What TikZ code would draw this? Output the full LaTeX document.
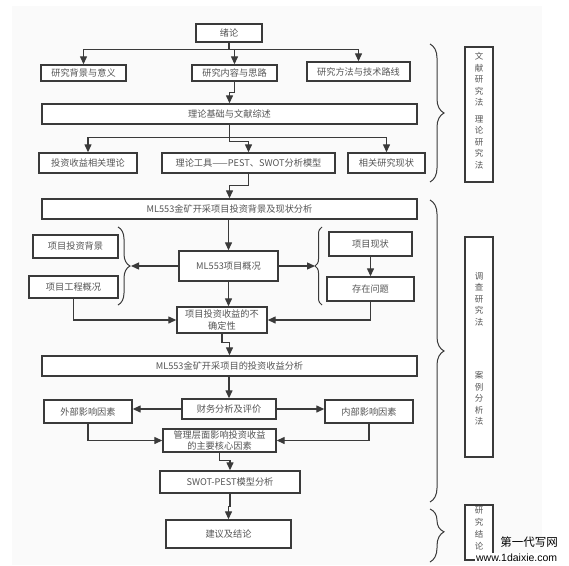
\documentclass[tikz,border=0pt]{standalone}
\usepackage{fontspec}
\newfontfamily\cjk{Noto Sans CJK SC}
\newfontfamily\wmfont{Liberation Sans}
\usetikzlibrary{arrows.meta,decorations.pathreplacing}
\definecolor{linec}{HTML}{3A3A3A}
\definecolor{textc}{HTML}{555555}
\definecolor{pagec}{HTML}{FAFAFA}
\tikzset{
  box/.style={draw=linec, line width=1.4pt, fill=white, inner sep=0pt, align=center,
    font=\cjk\fontsize{9.2}{11.5}\selectfont, text=textc},
  arr/.style={draw=linec, line width=1.3pt, -{Triangle[length=8pt,width=7pt]}},
  ln/.style={draw=linec, line width=1.3pt},
  brc/.style={draw=linec, line width=1pt, decorate, decoration={brace, amplitude=#1}},
  brc/.default=7pt,
  vtext/.style={font=\cjk\fontsize{8.5}{11.5}\selectfont, text=textc, align=center, inner sep=0pt}
}
\begin{document}
\begin{tikzpicture}[x=1pt,y=-1pt]
\useasboundingbox (0,0) rectangle (569,565);
\fill[white] (0,0) rectangle (569,565);
\fill[pagec] (12,6) rectangle (542,565);

% top part
\node[box, minimum width=66pt, minimum height=18pt] (xulun) at (229,33) {绪论};
\node[box, minimum width=85pt, minimum height=16pt] (bg) at (83.5,73) {研究背景与意义};
\node[box, minimum width=85pt, minimum height=16pt] (nr) at (234.5,73) {研究内容与思路};
\node[box, minimum width=103pt, minimum height=19pt] (ff) at (358.5,71.5) {研究方法与技术路线};
\node[box, minimum width=375pt, minimum height=20pt] (ll) at (229.5,114) {理论基础与文献综述};
\node[box, minimum width=98pt, minimum height=20pt] (tz) at (88,163) {投资收益相关理论};
\node[box, minimum width=173pt, minimum height=20pt] (gj) at (248.5,163) {理论工具——PEST、SWOT分析模型};
\node[box, minimum width=77pt, minimum height=20pt] (xg) at (386.5,163) {相关研究现状};

% middle part
\node[box, minimum width=375pt, minimum height=20pt] (a1) at (229.5,209) {ML553金矿开采项目投资背景及现状分析};
\node[box, minimum width=99pt, minimum height=30pt] (gk) at (228.5,266) {ML553项目概况};
\node[box, minimum width=85pt, minimum height=23pt] (tzbj) at (75.5,246.5) {项目投资背景};
\node[box, minimum width=89pt, minimum height=22pt] (gc) at (73.5,287) {项目工程概况};
\node[box, minimum width=83pt, minimum height=24pt] (xz) at (370.5,244) {项目现状};
\node[box, minimum width=87pt, minimum height=24pt] (wt) at (370.5,289) {存在问题};
\node[box, minimum width=90pt, minimum height=26pt] (bq) at (222,320) {项目投资收益的不\\确定性};

% lower part
\node[box, minimum width=375pt, minimum height=20pt] (a2) at (229.5,366) {ML553金矿开采项目的投资收益分析};
\node[box, minimum width=94pt, minimum height=20pt] (cw) at (229,409) {财务分析及评价};
\node[box, minimum width=88pt, minimum height=23pt] (wb) at (88,411.5) {外部影响因素};
\node[box, minimum width=88pt, minimum height=23pt] (nb) at (369,411.5) {内部影响因素};
\node[box, minimum width=113pt, minimum height=23pt, font=\cjk\fontsize{9.2}{10.5}\selectfont] (gl) at (219.5,440.5) {管理层面影响投资收益\\的主要核心因素};
\node[box, minimum width=140pt, minimum height=22pt] (sw) at (230,482) {SWOT-PEST模型分析};
\node[box, minimum width=125pt, minimum height=28pt] (jy) at (228.5,534) {建议及结论};

% right method boxes
\node[box, minimum width=28pt, minimum height=135pt] (m1) at (479,114.5) {};
\node[vtext] (m1t) at (479,110.5) {文\\献\\研\\究\\法\\[5pt]理\\论\\研\\究\\法};
\node[box, minimum width=28pt, minimum height=220pt] (m2) at (479,347) {};
\node[vtext] (m2t) at (479,349) {调\\查\\研\\究\\法\\[42pt]案\\例\\分\\析\\法};
\node[box, minimum width=28pt, minimum height=55pt] (m3) at (479,532.5) {};
\node[vtext, font=\cjk\fontsize{8.5}{12}\selectfont] (m3t) at (479,528.5) {研\\究\\结\\论};

% connectors top
\draw[ln] (xulun.south) -- ++(0,7) coordinate (j1);
\draw[arr] (j1) -| (bg.north);
\draw[arr] (j1) -| (ff.north);
\draw[arr] (j1) -| (nr.north);
\draw[arr] (nr.south) -- ++(0,11) -| (ll.north);
\draw[ln] (ll.south) -- ++(0,13) coordinate (j2);
\draw[arr] (j2) -| (tz.north);
\draw[arr] (j2) -| (xg.north);
\draw[arr] (ll.south) -- ++(0,17) -| (gj.north);
\draw[arr] (gj.south) -- ++(0,12) -| (a1.north);

% connectors middle
\draw[arr] (gk.north |- a1.south) -- (gk.north);
\coordinate (lbt) at (131,266);
\coordinate (rbt) at (315,266);
\draw[arr] (gk.west) -- (lbt);
\draw[arr] (gk.east) -- (rbt);
\draw[brc=12pt] (118,227) -- (118,305);
\draw[brc=7pt] (322,305) -- (322,227);
\draw[arr] (xz.south) -- (wt.north);
\draw[arr] (gk.south) -- (gk.south |- bq.north);
\draw[arr] (gc.south) |- (bq.west);
\draw[arr] (wt.south) |- (bq.east);
\draw[arr] (bq.south) -- ++(0,9) -| (a2.north);

% connectors lower
\draw[arr] (cw.north |- a2.south) -- (cw.north);
\draw[arr] (cw.west) -- (cw.west -| wb.east);
\draw[arr] (cw.east) -- (cw.east -| nb.west);
\draw[arr] (wb.south) |- (gl.west);
\draw[arr] (nb.south) |- (gl.east);
\draw[arr] (gl.south) -- ++(0,8) -| (sw.north);
\draw[arr] (sw.south) -- ++(0,13) -| (jy.north);

% big braces
\draw[brc=14pt] (430,44) -- (430,182);
\draw[brc=14pt] (430,200) -- (430,502);
\draw[brc=14pt, decoration={aspect=0.43}] (430,509) -- (430,562);

% watermark
\node[font=\cjk\fontsize{11.5}{12}\selectfont, inner sep=0pt, anchor=east] (wm1) at (558,542.5) {第一代写网};
\node[font=\wmfont\fontsize{10.5}{11}\selectfont, inner sep=0.6pt, fill=white, anchor=east] (wm2) at (558,557.5) {www.1daixie.com};
\end{tikzpicture}
\end{document}
